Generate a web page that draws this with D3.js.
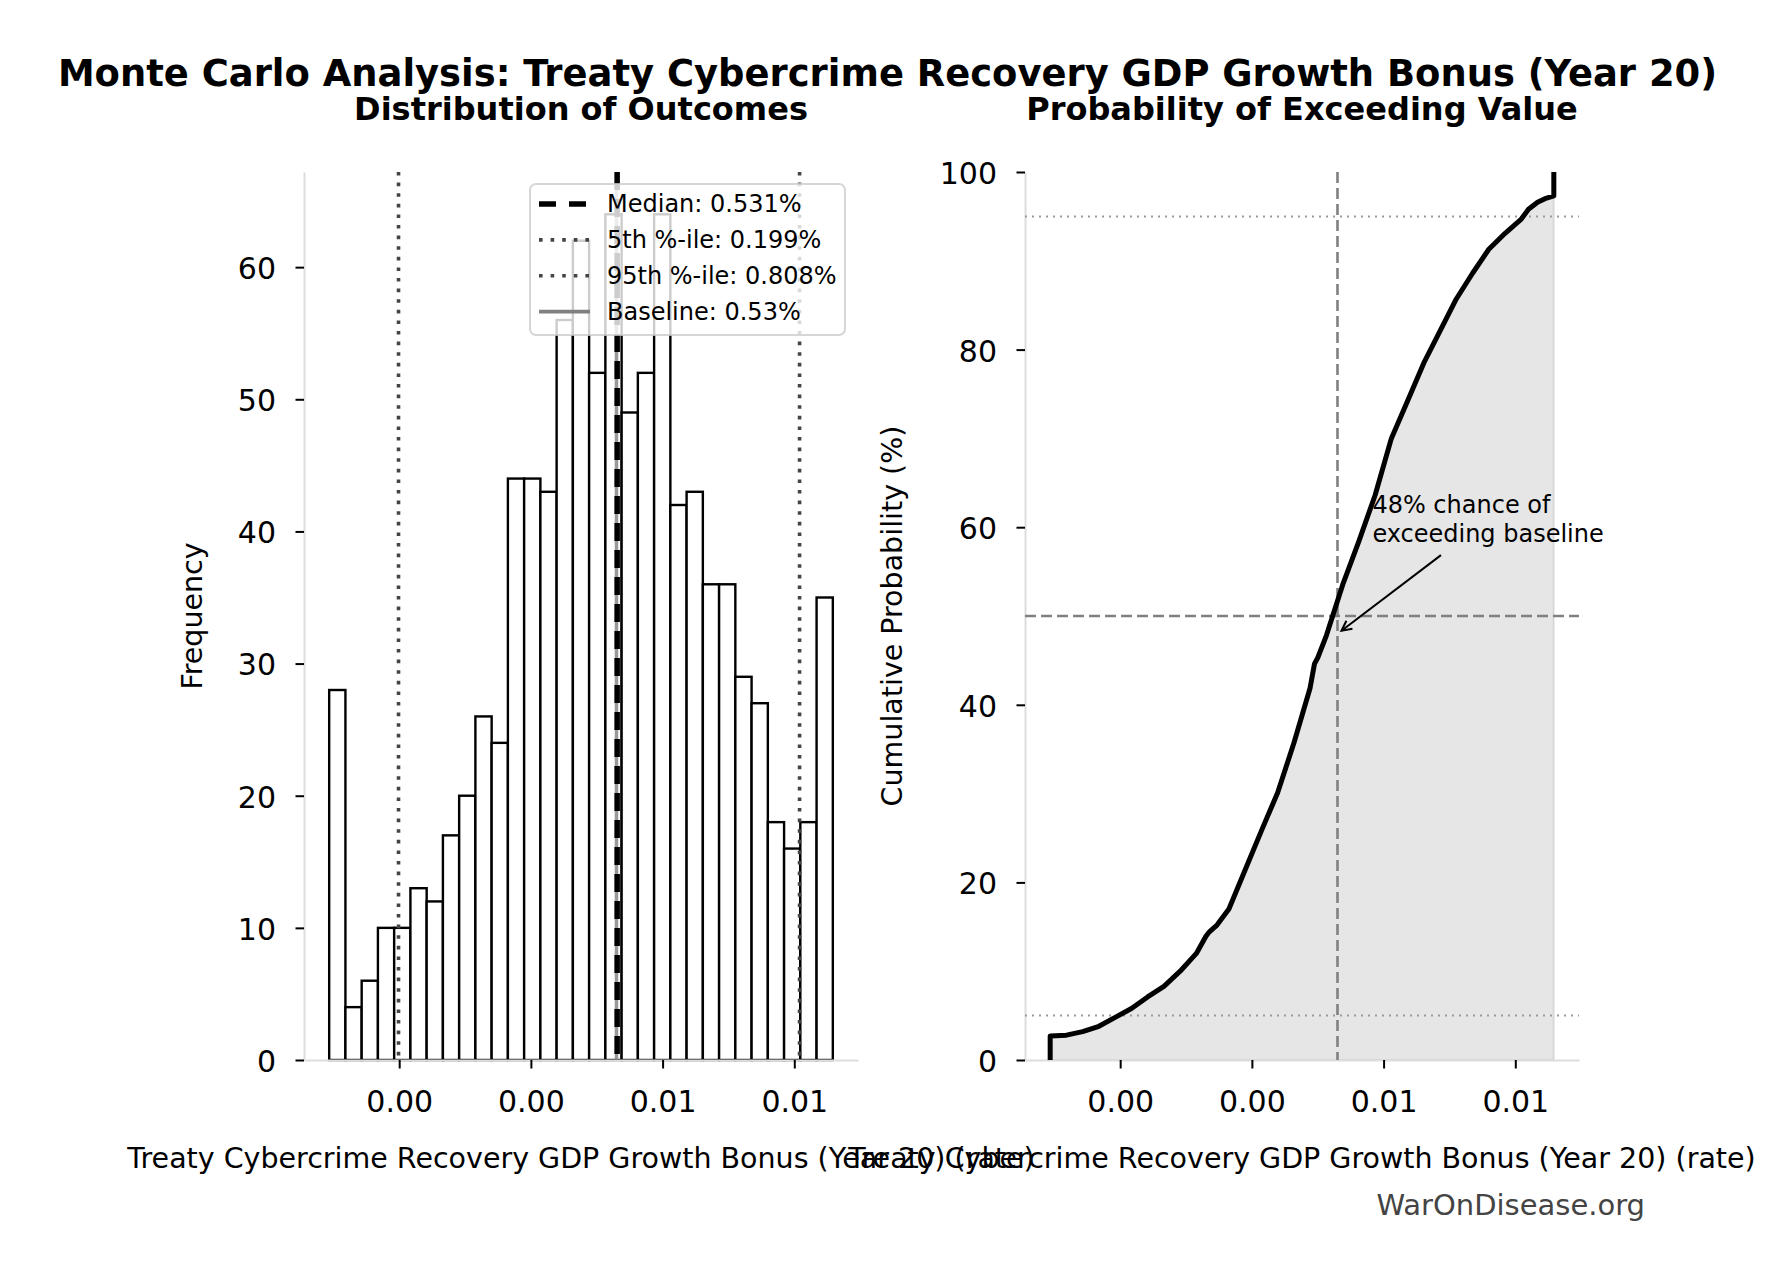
<!DOCTYPE html>
<html><head><meta charset="utf-8">
<script src="https://cdn.jsdelivr.net/npm/d3@7"></script>
<style>
body{margin:0;background:#fff}
svg{display:block}
text{font-family:"DejaVu Sans",sans-serif}
</style>
</head><body>
<svg id="chart" width="1775" height="1280"></svg>
<script>
// ---------------- data ----------------
const histCounts = [28,4,6,10,10,13,12,17,20,26,24,44,44,43,56,62,52,64,49,52,64,42,43,36,36,29,27,18,16,18,35];
const histRange = [0.000937, 0.008585];
const xTickValues = [0.002, 0.004, 0.006, 0.008];
const histYTicks = [0,10,20,30,40,50,60];
const cdfYTicks = [0,20,40,60,80,100];
const cdfValues = [0.000937,0.000937,0.001184,0.001430,0.001677,0.001924,0.002171,0.002417,0.002664,0.002911,0.003157,0.003300,0.003350,0.003470,0.003651,0.003897,0.004144,0.004391,0.004638,0.004884,0.004950,0.005000,0.005131,0.005378,0.005624,0.005871,0.006118,0.006364,0.006611,0.006858,0.007104,0.007351,0.007598,0.007845,0.008091,0.008200,0.008338,0.008450,0.008585,0.008585];
const cdfPercents = [0,2.7,2.8,3.2,3.8,4.8,5.8,7.1,8.3,10.0,12.0,13.9,14.4,15.2,17.0,21.4,25.8,30.1,35.7,41.9,44.6,45.3,47.8,53.5,58.4,63.6,70.0,74.2,78.5,82.1,85.7,88.6,91.3,93.1,94.7,95.8,96.6,97.0,97.3,100];
const medianValue = 0.00531;
const p5Value = 0.00199;
const p95Value = 0.00808;
const baselineValue = 0.0053;
const legendLabels = ["Median: 0.531%","5th %-ile: 0.199%","95th %-ile: 0.808%","Baseline: 0.53%"];
const refPercents = [5, 95];
const midPercent = 50;
const annotationLines = ["48% chance of","exceeding baseline"];
const annotationPct = 48;
const titleText = "Monte Carlo Analysis: Treaty Cybercrime Recovery GDP Growth Bonus (Year 20)";
const subTitles = ["Distribution of Outcomes","Probability of Exceeding Value"];
const xLabelText = "Treaty Cybercrime Recovery GDP Growth Bonus (Year 20) (rate)";

// ---------------- layout ----------------
const svg = d3.select("#chart");
const TOP = 172, BOT = 1060;
const L = [304, 858], R = [1025, 1579];
const span = histRange[1] - histRange[0];
const xDomain = [histRange[0] - 0.05*span, histRange[1] + 0.05*span];
const xL = d3.scaleLinear().domain(xDomain).range(L);
const xR = d3.scaleLinear().domain(xDomain).range(R);
const yL = d3.scaleLinear().domain([0, d3.max(histCounts)*1.05]).range([BOT, TOP]);
const yR = d3.scaleLinear().domain([0, 100]).range([BOT, TOP]);
const fmt = d3.format(".2f");

svg.append("rect").attr("width",1775).attr("height",1280).attr("fill","#fff");

// titles
svg.append("text").attr("x",887.5).attr("y",86).attr("text-anchor","middle")
  .attr("font-size",36.9).attr("font-weight","bold").text(titleText);
svg.append("text").attr("x",(L[0]+L[1])/2).attr("y",120).attr("text-anchor","middle")
  .attr("font-size",32).attr("font-weight","bold").text(subTitles[0]);
svg.append("text").attr("x",(R[0]+R[1])/2).attr("y",120).attr("text-anchor","middle")
  .attr("font-size",32).attr("font-weight","bold").text(subTitles[1]);

function styleAxis(g){
  g.select(".domain").attr("stroke","#dddddd").attr("stroke-width",2);
  g.selectAll(".tick line").attr("stroke","#000").attr("stroke-width",2);
  g.selectAll(".tick text").attr("font-size",30).attr("fill","#000")
    .attr("font-family","DejaVu Sans");
}

// ---------------- left panel: histogram ----------------
const gL = svg.append("g");
const nb = histCounts.length;
const edges = d3.range(nb+1).map(i => histRange[0] + i*span/nb);
gL.selectAll("rect.bar").data(histCounts).join("rect").attr("class","bar")
  .attr("x",(d,i)=>xL(edges[i])).attr("width",(d,i)=>xL(edges[i+1])-xL(edges[i]))
  .attr("y",d=>yL(d)).attr("height",d=>yL(0)-yL(d))
  .attr("fill","#fff").attr("stroke","#000").attr("stroke-width",2.4);

const axLB = gL.append("g").attr("transform",`translate(0,${BOT})`)
  .call(d3.axisBottom(xL).tickValues(xTickValues).tickFormat(fmt).tickSize(8.5).tickSizeOuter(0).tickPadding(22));
styleAxis(axLB);
const axLL = gL.append("g").attr("transform",`translate(${L[0]},0)`)
  .call(d3.axisLeft(yL).tickValues(histYTicks).tickSize(8.5).tickSizeOuter(0).tickPadding(19.5));
styleAxis(axLL);
axLL.selectAll(".tick text").attr("dy","0.38em");

function vline(g, scale, v, stroke, w, dash, op){
  g.append("line").attr("x1",scale(v)).attr("x2",scale(v)).attr("y1",TOP).attr("y2",BOT)
   .attr("stroke",stroke).attr("stroke-width",w).attr("stroke-dasharray",dash||null)
   .attr("opacity",op==null?1:op);
}
vline(gL, xL, baselineValue, "#808080", 3.5, null, 0.8);
vline(gL, xL, medianValue, "#000", 5.5, "18,9");
vline(gL, xL, p5Value, "#444", 3.6, "3.6,7");
vline(gL, xL, p95Value, "#444", 3.6, "3.6,7");

// legend
const lg = svg.append("g");
lg.append("rect").attr("x",530).attr("y",184).attr("width",315).attr("height",151).attr("rx",6)
  .attr("fill","rgba(255,255,255,0.8)").attr("stroke","rgba(204,204,204,0.8)").attr("stroke-width",2);
const legStyles = [
  {stroke:"#000", w:5.5, dash:"17,13"},
  {stroke:"#444", w:3.6, dash:"3.6,8"},
  {stroke:"#444", w:3.6, dash:"3.6,8"},
  {stroke:"#808080", w:3.8, dash:null}
];
legendLabels.forEach((lab,i)=>{
  const cy = 204 + i*35.9;
  lg.append("line").attr("x1",539).attr("x2",590).attr("y1",cy).attr("y2",cy)
    .attr("stroke",legStyles[i].stroke).attr("stroke-width",legStyles[i].w)
    .attr("stroke-dasharray",legStyles[i].dash);
  lg.append("text").attr("x",607).attr("y",cy+7.8).attr("font-size",24).text(lab);
});

// axis labels
svg.append("text").attr("x",(L[0]+L[1])/2).attr("y",1168).attr("text-anchor","middle")
  .attr("font-size",28.5).text(xLabelText);
svg.append("text").attr("transform",`translate(201.7,${(TOP+BOT)/2}) rotate(-90)`)
  .attr("text-anchor","middle").attr("font-size",28.5).text("Frequency");

// ---------------- right panel: CDF ----------------
const gR = svg.append("g");
const pts = cdfValues.map((v,i)=>[v, cdfPercents[i]]);
gR.append("path").datum(pts)
  .attr("d", d3.area().x(d=>xR(d[0])).y0(yR(0)).y1(d=>yR(d[1])))
  .attr("fill","rgba(128,128,128,0.2)").attr("stroke","rgba(128,128,128,0.2)").attr("stroke-width",2);

const axRB = gR.append("g").attr("transform",`translate(0,${BOT})`)
  .call(d3.axisBottom(xR).tickValues(xTickValues).tickFormat(fmt).tickSize(8.5).tickSizeOuter(0).tickPadding(22));
styleAxis(axRB);
const axRL = gR.append("g").attr("transform",`translate(${R[0]},0)`)
  .call(d3.axisLeft(yR).tickValues(cdfYTicks).tickSize(8.5).tickSizeOuter(0).tickPadding(19.5));
styleAxis(axRL);
axRL.selectAll(".tick text").attr("dy","0.38em");

refPercents.forEach(p=>{
  gR.append("line").attr("x1",R[0]).attr("x2",R[1]).attr("y1",yR(p)).attr("y2",yR(p))
    .attr("stroke","#999").attr("stroke-width",2).attr("stroke-dasharray","2,5");
});
gR.append("line").attr("x1",R[0]).attr("x2",R[1]).attr("y1",yR(midPercent)).attr("y2",yR(midPercent))
  .attr("stroke","#808080").attr("stroke-width",2.6).attr("stroke-dasharray","11,5");
vline(gR, xR, baselineValue, "#808080", 2.6, "11,5");

gR.append("path").datum(pts)
  .attr("d", d3.line().x(d=>xR(d[0])).y(d=>yR(d[1])))
  .attr("fill","none").attr("stroke","#000").attr("stroke-width",5).attr("stroke-linejoin","round");

// annotation
const annX = xR(baselineValue*1.1), annY = yR(60);
const t1 = gR.append("text").attr("x",annX).attr("y",annY-14).attr("font-size",24).text(annotationLines[0]);
const t2 = gR.append("text").attr("x",annX).attr("y",annY+15).attr("font-size",24).text(annotationLines[1]);
const tw = Math.max(t1.node().getComputedTextLength(), t2.node().getComputedTextLength());
const bx0 = annX, bx1 = annX+tw, by0 = annY-14-22.3, by1 = annY+15+5.7;
const cx = (bx0+bx1)/2, cy = (by0+by1)/2;
const tip = [xR(baselineValue), yR(annotationPct)];
let dx = tip[0]-cx, dy = tip[1]-cy;
const len = Math.hypot(dx,dy); const ux = dx/len, uy = dy/len;
const tEdge = Math.min((by1-cy)/uy, (cx-bx0)/Math.abs(ux));
const start = [cx+ux*(tEdge+12), cy+uy*(tEdge+12)];
const end = [tip[0]-ux*5, tip[1]-uy*5];
gR.append("line").attr("x1",start[0]).attr("y1",start[1]).attr("x2",end[0]).attr("y2",end[1])
  .attr("stroke","#000").attr("stroke-width",2);
const hl = 10, hw = 5;
const px = -uy, py = ux;
gR.append("path")
  .attr("d",`M${end[0]-ux*hl+px*hw},${end[1]-uy*hl+py*hw}L${end[0]},${end[1]}L${end[0]-ux*hl-px*hw},${end[1]-uy*hl-py*hw}`)
  .attr("fill","none").attr("stroke","#000").attr("stroke-width",2);

svg.append("text").attr("x",(R[0]+R[1])/2).attr("y",1168).attr("text-anchor","middle")
  .attr("font-size",28.5).text(xLabelText);
svg.append("text").attr("transform",`translate(902,${(TOP+BOT)/2}) rotate(-90)`)
  .attr("text-anchor","middle").attr("font-size",28.5).text("Cumulative Probability (%)");

// watermark
svg.append("text").attr("x",1645).attr("y",1215).attr("text-anchor","end")
  .attr("font-size",29).attr("fill","#444").text("WarOnDisease.org");
</script>
</body></html>
